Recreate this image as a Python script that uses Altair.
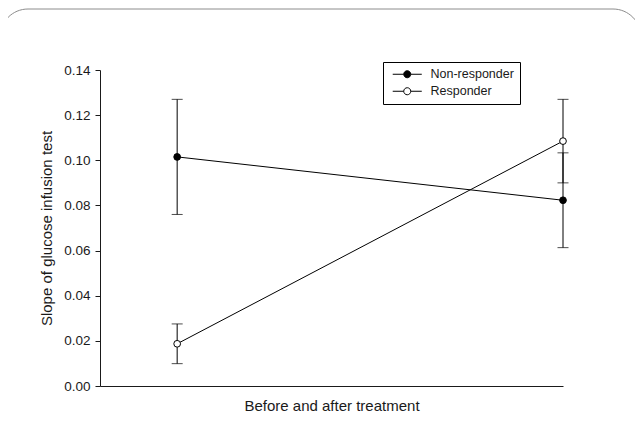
import altair as alt
import pandas as pd

groups = ["Non-responder", "Non-responder", "Responder", "Responder"]
phase = [0, 1, 0, 1]  # 0 = before, 1 = after treatment
means = [0.1015, 0.0823, 0.0187, 0.1085]
errs = [0.0255, 0.021, 0.0088, 0.0185]

df = pd.DataFrame({"group": groups, "phase": phase, "mean": means, "err": errs})
df["lo"] = df["mean"] - df["err"]
df["hi"] = df["mean"] + df["err"]

FONT = "Liberation Sans"
INK = "#1a1a1a"

x_enc = alt.X("phase:Q", scale=alt.Scale(domain=[-0.2, 1.0], nice=False, zero=False),
              axis=alt.Axis(title="Before and after treatment", labels=False, ticks=False,
                            grid=False, domainColor=INK, titlePadding=12,
                            titleFont=FONT, titleFontSize=15, titleFontWeight="normal",
                            titleColor=INK))
y_scale = alt.Scale(domain=[0, 0.14], nice=False)
y_axis = alt.Axis(title="Slope of glucose infusion test", values=[0, 0.02, 0.04, 0.06, 0.08, 0.10, 0.12, 0.14],
                  format=".2f", grid=False, tickSize=5, tickColor=INK, domainColor=INK,
                  labelFont=FONT, labelFontSize=13.5, labelColor=INK, labelPadding=5,
                  titleFont=FONT, titleFontSize=15, titleFontWeight="normal", titleColor=INK,
                  titlePadding=9)

base = alt.Chart(df)

frame = alt.Chart(pd.DataFrame({"k": [0]})).mark_rect(
    fill=None, stroke="#8c8c8c", strokeWidth=1, cornerRadius=28
).encode(x=alt.value(-100), x2=alt.value(541), y=alt.value(-61), y2=alt.value(430))

lines = base.mark_line(color="black", strokeWidth=1).encode(
    x=x_enc, y=alt.Y("mean:Q", scale=y_scale, axis=y_axis), detail="group:N")

rules = base.mark_rule(color="black", strokeWidth=1).encode(
    x="phase:Q", y="lo:Q", y2="hi:Q")

cap_lo = base.mark_tick(orient="horizontal", size=11, thickness=1, color="black").encode(
    x="phase:Q", y="lo:Q")
cap_hi = base.mark_tick(orient="horizontal", size=11, thickness=1, color="black").encode(
    x="phase:Q", y="hi:Q")

sym = ("M-2.64,0L-0.64,0M0.64,0L2.64,0"
       "M-0.64,0A0.64,0.64,0,1,1,0.64,0A0.64,0.64,0,1,1,-0.64,0Z")

points = base.mark_point(filled=True, shape="circle", size=45, stroke="black",
                         strokeWidth=1, opacity=1).encode(
    x="phase:Q", y="mean:Q",
    fill=alt.Fill("group:N",
                  scale=alt.Scale(domain=["Non-responder", "Responder"], range=["black", "white"]),
                  legend=alt.Legend(title=None, orient="none", legendX=283, legendY=-8,
                                    symbolType=sym, symbolSize=121, symbolStrokeColor="black",
                                    symbolStrokeWidth=1, symbolOffset=12, labelOffset=17,
                                    labelFont=FONT, labelFontSize=12.5, labelColor=INK,
                                    rowPadding=4, padding=6, strokeColor="black",
                                    fillColor="white")))

chart = alt.layer(frame, lines, rules, cap_lo, cap_hi, points).properties(
    width=463, height=316,
    autosize=alt.AutoSizeParams(type="none"),
    padding={"left": 92, "top": 62, "right": 72, "bottom": 29},
    background="white",
).configure_view(stroke=None)

chart.save("out.html", embed_options={"renderer": "svg", "actions": False})
